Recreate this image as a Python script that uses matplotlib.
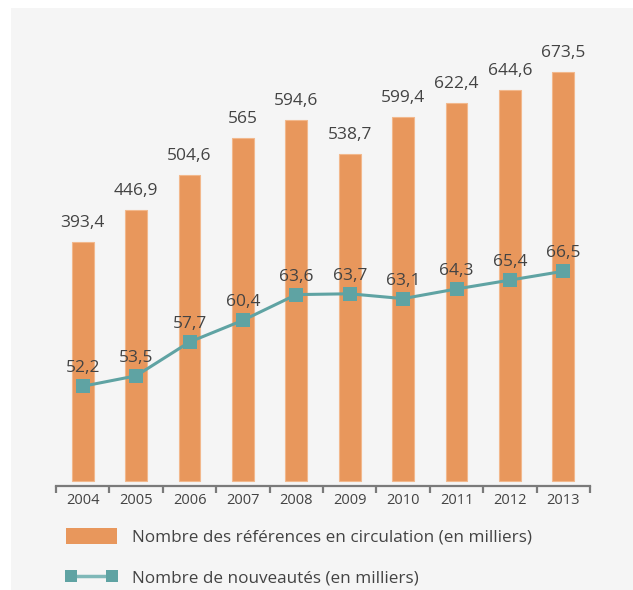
import matplotlib
matplotlib.use('Agg')
import matplotlib.pyplot as plt
from matplotlib.patches import Rectangle, Patch
from matplotlib.lines import Line2D
import numpy as np

years = ['2004', '2005', '2006', '2007', '2008', '2009', '2010', '2011', '2012', '2013']
references = [393.4, 446.9, 504.6, 565, 594.6, 538.7, 599.4, 622.4, 644.6, 673.5]
nouveautes = [52.2, 53.5, 57.7, 60.4, 63.6, 63.7, 63.1, 64.3, 65.4, 66.5]

ref_label = 'Nombre des références en circulation (en milliers)'
nouv_label = 'Nombre de nouveautés (en milliers)'

orange = '#E8975C'
teal = '#5FA3A3'
txt = '#434343'
plt.rcParams['font.family'] = ['Open Sans', 'DejaVu Sans']

def fr(v):
    # french decimal comma, no trailing ",0"
    s = ('%g' % v)
    return s.replace('.', ',')

fig = plt.figure(figsize=(6.33, 5.9), dpi=100)
fig.patch.set_facecolor('white')
# light grey panel behind everything
fig.add_artist(Rectangle((11/633, 0), 1, 1 - 8/590, transform=fig.transFigure,
                         facecolor='#f5f5f5', edgecolor='none', zorder=-10))

ax = fig.add_axes([56/633, 1 - 486/590, 534/633, 456/590])
ax.set_facecolor('none')
x = np.arange(len(years))

bars = ax.bar(x, references, width=0.41, color=orange, edgecolor='#f2b88c', linewidth=0.8)
for xi, v in zip(x, references):
    ax.annotate(fr(v), (xi, v), xytext=(0, 8), textcoords='offset points',
                ha='center', va='bottom', fontsize=12.5, color=txt)

ax.set_xlim(-0.5, len(years) - 0.5)
ax.set_ylim(-8, 743)
for s in ['top', 'right', 'left']:
    ax.spines[s].set_visible(False)
ax.spines['bottom'].set_color('#7a7a7a')
ax.spines['bottom'].set_linewidth(1.6)
ax.set_yticks([])
ax.set_xticks(x)
ax.set_xticklabels(years, fontsize=10.5, color=txt)
ax.tick_params(axis='x', which='major', length=0, pad=5)
ax.set_xticks(np.arange(-0.5, len(years), 1), minor=True)
ax.tick_params(axis='x', which='minor', length=5, width=1.6, color='#7a7a7a')

ax2 = ax.twinx()
ax2.set_ylim(39.8, 96.5)
ax2.plot(x, nouveautes, color=teal, linewidth=2.2, marker='s', markersize=9.5,
         markeredgewidth=0, zorder=3)
for xi, v in zip(x, nouveautes):
    ax2.annotate(fr(v), (xi, v), xytext=(0, 10), textcoords='offset points',
                 ha='center', va='baseline', fontsize=12.5, color=txt)
ax2.axis('off')

handles = [Patch(facecolor=orange, edgecolor='none'),
           Line2D([0], [0], color='#7fb8b8', linewidth=2.5, marker='s', markersize=8.5,
                  markerfacecolor=teal, markeredgewidth=0)]
fig.legend(handles, [ref_label, nouv_label], loc='upper left',
           bbox_to_anchor=(66/633, 1 - 528/590), frameon=False, numpoints=2,
           fontsize=12.3, labelcolor=txt, handlelength=3.0, handleheight=1.05,
           handletextpad=0.85, labelspacing=1.35, borderpad=0, borderaxespad=0)

fig.savefig('out.png', dpi=100, facecolor=fig.get_facecolor())
